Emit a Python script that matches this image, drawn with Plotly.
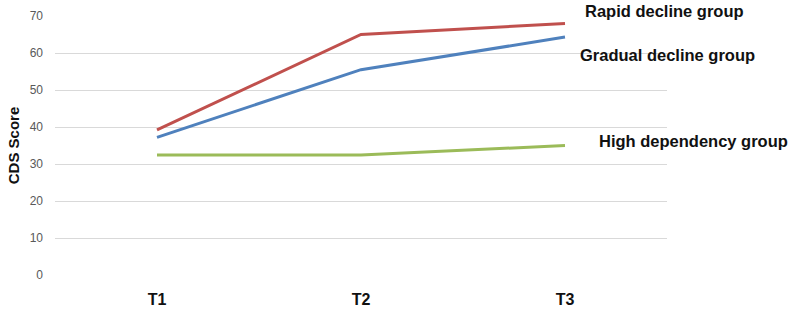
import plotly.graph_objects as go

times = ["T1", "T2", "T3"]
rapid = [39.2, 65.0, 68.0]
gradual = [37.2, 55.5, 64.3]
high = [32.4, 32.4, 35.0]
names = ["Rapid decline group", "Gradual decline group", "High dependency group"]
colors = ["#C0504D", "#4F81BD", "#9BBB59"]
y_ticks = [0, 10, 20, 30, 40, 50, 60, 70]

fig = go.Figure()
for vals, name, col in zip([rapid, gradual, high], names, colors):
    fig.add_trace(go.Scatter(x=times, y=vals, mode="lines", name=name,
                             line=dict(color=col, width=3), showlegend=False))

label_pos = [(583, 11), (578, 55), (597, 141)]
for (px, py), name in zip(label_pos, names):
    fig.add_annotation(text="<b>%s</b>" % name, xref="paper", yref="paper",
                       x=(px - 55) / 612, y=1 - (py - 16) / 259,
                       xanchor="left", yanchor="middle", showarrow=False,
                       font=dict(family="Liberation Sans, Arial", size=16.5, color="#111111"))

fig.update_layout(
    width=794, height=311,
    margin=dict(l=55, r=127, t=16, b=36),
    paper_bgcolor="white", plot_bgcolor="white",
    xaxis=dict(showgrid=False, showline=False, zeroline=False, range=[-0.5, 2.5],
               automargin=False,
               tickfont=dict(family="Liberation Sans, Arial", size=16, color="#111111"),
               ticklabelstandoff=13, tickprefix="<b>", ticksuffix="</b>"),
    yaxis=dict(range=[0, 70], tickvals=y_ticks, showgrid=True, gridcolor="#D9D9D9",
               gridwidth=1, zeroline=False, showline=False, automargin=False,
               tickfont=dict(family="Liberation Sans, Arial", size=12, color="#595959"),
               ticklabelstandoff=11,
               title=dict(text="<b>CDS Score</b>", standoff=6,
                          font=dict(family="Liberation Sans, Arial", size=15, color="#111111"))),
)
fig.write_html("out.html")
